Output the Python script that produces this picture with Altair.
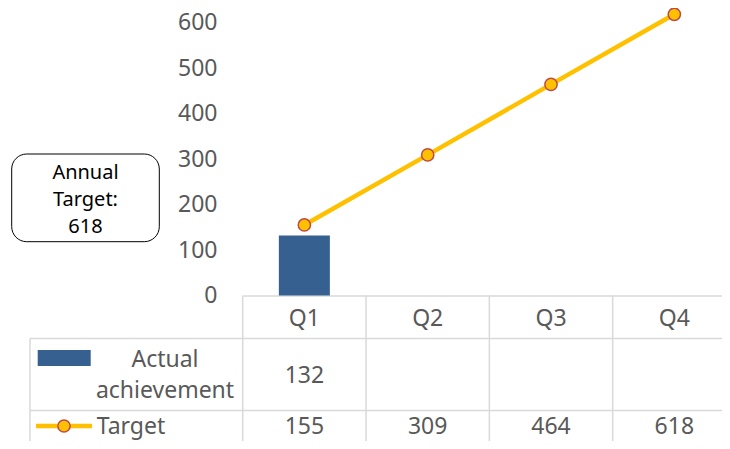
import altair as alt
import pandas as pd

# ---- data ----
quarters = ["Q1", "Q2", "Q3", "Q4"]
actual = [132, None, None, None]
target = [155, 309, 464, 618]
y_ticks = [0, 100, 200, 300, 400, 500, 600]
annual_target = target[-1]
series_names = ["Actual achievement", "Target"]

df = pd.DataFrame({"quarter": quarters, "actual": actual, "target": target})
df["actual_label"] = ["" if pd.isna(v) else str(int(v)) for v in df["actual"]]
one = pd.DataFrame({"k": [0]})

FONT = "Noto Sans"
GRAY = "#595959"
GRID = "#D9D9D9"
BAR = "#35608F"
GOLD = "#FFC000"
RED = "#BE4B48"

W, H = 714, 433

xs = alt.Scale(domain=quarters, range=[234.7, 728], paddingInner=0, paddingOuter=0)
ys = alt.Scale(domain=[0, 600], range=[287.5, 14.5], nice=False, zero=True)

x_axis = alt.Axis(orient="bottom", offset=287.5 - H, domain=True, domainColor=GRID,
                  domainWidth=1.5, ticks=False, tickSize=0, grid=False,
                  labelPadding=29.5, labelBaseline="alphabetic", labelAngle=0,
                  labelFont=FONT, labelFontSize=23, labelColor=GRAY, title=None)
y_axis = alt.Axis(values=y_ticks, offset=-209, domain=False, ticks=False, tickSize=0,
                  grid=False, labelPadding=0, labelFont=FONT, labelFontSize=23,
                  labelColor=GRAY, title=None)

x_enc = alt.X("quarter:N", scale=xs, sort=quarters, axis=x_axis)

# table grid
vlines = alt.Chart(df).mark_rule(color=GRID, strokeWidth=1.5).encode(
    x=alt.X("quarter:N", scale=xs, sort=quarters, axis=x_axis, bandPosition=0),
    y=alt.value(287.5), y2=alt.value(H))
left_line = alt.Chart(one).mark_rule(color=GRID, strokeWidth=1.5).encode(
    x=alt.value(22), y=alt.value(330.5), y2=alt.value(H))
h1 = alt.Chart(one).mark_rule(color=GRID, strokeWidth=1.5).encode(
    x=alt.value(22), x2=alt.value(W), y=alt.value(330.5))
h2 = alt.Chart(one).mark_rule(color=GRID, strokeWidth=1.5).encode(
    x=alt.value(22), x2=alt.value(W), y=alt.value(402.5))

bars = alt.Chart(df).mark_bar(width=51, color=BAR).encode(
    x=x_enc, y=alt.Y("actual:Q", scale=ys, axis=y_axis))
line = alt.Chart(df).mark_line(color=GOLD, strokeWidth=4.5).encode(
    x=x_enc, y=alt.Y("target:Q", scale=ys, axis=y_axis))
pts = alt.Chart(df).mark_circle(color=GOLD, stroke=RED, strokeWidth=1.5, size=150,
                                opacity=1).encode(
    x=x_enc, y=alt.Y("target:Q", scale=ys, axis=y_axis))

# table values
ROW2 = 426
txt_actual = alt.Chart(df).mark_text(font=FONT, fontSize=23, color=GRAY,
                                     baseline="alphabetic").encode(
    x=x_enc, y=alt.value(375), text="actual_label:N")
txt_target = alt.Chart(df).mark_text(font=FONT, fontSize=23, color=GRAY,
                                     baseline="alphabetic").encode(
    x=x_enc, y=alt.value(ROW2), text="target:Q")

# legend keys in table
leg_rect = alt.Chart(one).mark_rect(color=BAR).encode(
    x=alt.value(29.7), x2=alt.value(82.7), y=alt.value(342), y2=alt.value(358))
leg_line = alt.Chart(one).mark_rule(color=GOLD, strokeWidth=4.5).encode(
    x=alt.value(28), x2=alt.value(84), y=alt.value(ROW2 - 8))
leg_pt = alt.Chart(one).mark_circle(color=GOLD, stroke=RED, strokeWidth=1.5, size=150,
                                    opacity=1).encode(x=alt.value(56), y=alt.value(ROW2 - 8))
leg_txt1 = alt.Chart(one).mark_text(font=FONT, fontSize=23, color=GRAY, align="center",
                                    baseline="alphabetic", lineHeight=31,
                                    text=series_names[0].split(" ")).encode(
    x=alt.value(157), y=alt.value(359))
leg_txt2 = alt.Chart(one).mark_text(font=FONT, fontSize=23, color=GRAY, align="left",
                                    baseline="alphabetic", text=series_names[1]).encode(
    x=alt.value(88.7), y=alt.value(ROW2))

# annotation box
box = alt.Chart(one).mark_rect(cornerRadius=15, fill="white", stroke="black",
                               strokeWidth=1).encode(
    x=alt.value(3.7), x2=alt.value(151.3), y=alt.value(146), y2=alt.value(233.7))
box_txt = alt.Chart(one).mark_text(font=FONT, fontSize=20, color="black", align="center",
                                   baseline="alphabetic", lineHeight=27,
                                   text=["Annual", "Target:", str(annual_target)]).encode(
    x=alt.value(77.5), y=alt.value(171.3))

chart = alt.layer(
    vlines, left_line, h1, h2, bars, line, pts, txt_actual, txt_target,
    leg_rect, leg_line, leg_pt, leg_txt1, leg_txt2, box, box_txt
).properties(
    width=W, height=H, padding=0,
    autosize=alt.AutoSizeParams(type="none")
).configure_view(stroke=None)

chart.save("out.html", embed_options={"renderer": "svg", "actions": False})
